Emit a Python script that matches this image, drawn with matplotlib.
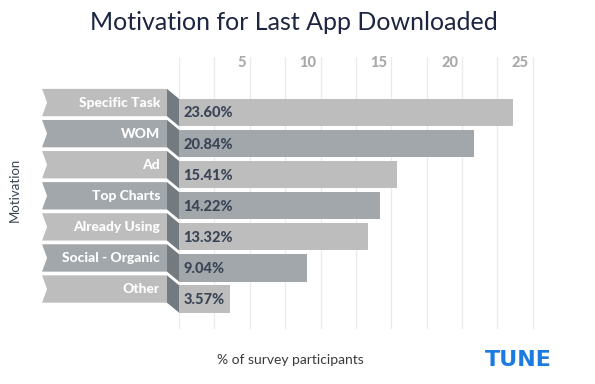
import matplotlib.pyplot as plt
from matplotlib.patches import Polygon
from matplotlib.ticker import MultipleLocator
import matplotlib.transforms as mtransforms

categories = ['Specific Task', 'WOM', 'Ad', 'Top Charts', 'Already Using',
              'Social - Organic', 'Other']
shares = [23.60, 20.84, 15.41, 14.22, 13.32, 9.04, 3.57]
tick_values = [5, 10, 15, 20, 25]

LIGHT = '#bdbdbd'
DARK = '#a1a7ab'
FOLD = '#737a80'
FONT = 'Lato'

W, H = 595, 384
fig = plt.figure(figsize=(W / 100, H / 100), dpi=100)

# axes placed in pixel terms: zero line at x=179, grid from y=57 to y=329
left, right, top, bottom = 179, 547, 57, 329
ax = fig.add_axes([left / W, 1 - bottom / H, (right - left) / W, (bottom - top) / H])
ax.set_xlim(0, 26)
ax.set_ylim(6.966, -1.786)

colors = [LIGHT if i % 2 == 0 else DARK for i in range(len(categories))]
ypos = list(range(len(categories)))
bar_h = 0.88
ax.barh(ypos, shares, height=bar_h, color=colors, zorder=3)

# ribbons with notched tail + fold connecting to the bar
rib_left, rib_right = -9.675, -0.847
shift = 0.32
notch = 0.353
for y, c, name, v in zip(ypos, colors, categories, shares):
    t = y - bar_h / 2 - shift
    b = y + bar_h / 2 - shift
    ribbon = Polygon([(rib_left, t), (rib_right, t), (rib_right, b), (rib_left, b),
                      (rib_left + notch, (t + b) / 2)],
                     closed=True, facecolor=c, edgecolor='none', clip_on=False, zorder=3)
    ax.add_patch(ribbon)
    fold = Polygon([(rib_right, t), (0, y - bar_h / 2), (0, y + bar_h / 2), (rib_right, b)],
                   closed=True, facecolor=FOLD, edgecolor='none', clip_on=False, zorder=4)
    ax.add_patch(fold)
    ax.text(-1.34, (t + b) / 2, name, ha='right', va='center', color='white',
            fontsize=10, fontweight='black', family=FONT, zorder=5, clip_on=False)
    ax.text(0.3, y + 0.03, f'{v:.2f}%', ha='left', va='center', color='#3b4556',
            fontsize=10.5, fontweight='black', family=FONT, zorder=5)

# grid every 2.5, labels only at 5s
ax.xaxis.set_minor_locator(MultipleLocator(2.5))
ax.set_xticks(tick_values)
ax.grid(True, axis='x', which='both', color='#ebebeb', lw=1, zorder=0)
ax.set_axisbelow(True)
ax.tick_params(axis='both', which='both', length=0)
ax.set_yticks([])
ax.set_xticklabels([])
for s in ax.spines.values():
    s.set_visible(False)

label_tf = ax.get_xaxis_transform() + mtransforms.ScaledTranslation(-4 / 100, 0, fig.dpi_scale_trans)
for v in tick_values:
    ax.text(v, 1 - 6 / (bottom - top), str(v), transform=label_tf, ha='right', va='center',
            color='#a9a9a9', fontsize=10.5, fontweight='black', family=FONT)

fig.text(294 / W, 1 - 22 / H, 'Motivation for Last App Downloaded', ha='center', va='center',
         color='#1c2541', fontsize=18, family=FONT)
fig.text(15 / W, 1 - 190 / H, 'Motivation', rotation=90, ha='center', va='center',
         color='#3a4250', fontsize=9.5, family=FONT)
fig.text(290 / W, 1 - 360 / H, '% of survey participants', ha='center', va='center',
         color='#3a3a3a', fontsize=10, family=FONT)
fig.text(518 / W, 1 - 360 / H, 'TUNE', ha='center', va='center',
         color='#1b7be0', fontsize=16, fontweight='bold', family='DejaVu Sans')

fig.savefig('out.png', dpi=100)
